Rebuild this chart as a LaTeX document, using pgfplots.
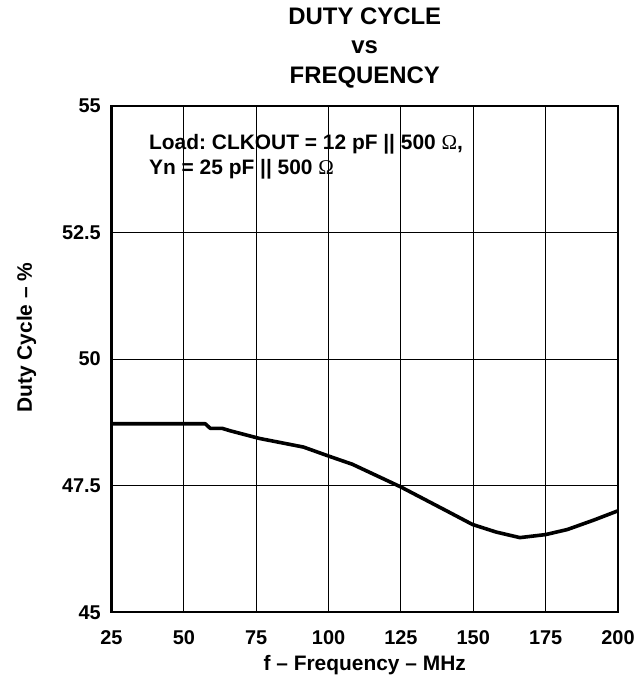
\documentclass[border=0pt]{standalone}
\usepackage{fontspec}
\setmainfont{Liberation Sans}
\newfontfamily\seriffont{Liberation Serif}
\usepackage{pgfplots}
\pgfplotsset{compat=1.18}
\frenchspacing
\begin{document}
\begin{tikzpicture}
\useasboundingbox (-111.5bp,-67bp) rectangle (530.5bp,612bp);
\begin{axis}[
  at={(0,0)}, anchor=south west,
  scale only axis,
  width=506.5bp, height=506bp,
  xmin=25, xmax=200, ymin=45, ymax=55,
  xtick={25,50,75,100,125,150,175,200},
  ytick={45,47.5,50,52.5,55},
  yticklabels={45,47.5,50,52.5,55},
  xticklabels={25,50,75,100,125,150,175,200},
  /pgf/number format/assume math mode=true,
  grid=major,
  major grid style={black, line width=0.9bp},
  major tick length=0pt,
  axis line style={line width=2.4bp},
  every axis/.append style={line width=2.4bp},
  tick label style={font=\fontsize{20}{24}\bfseries, inner sep=0pt, text height=14bp, text depth=0pt},
  xticklabel style={anchor=north, yshift=-17bp},
  yticklabel style={anchor=east, xshift=-9.5bp},
  xlabel={f -- Frequency -- MHz},
  ylabel={Duty Cycle -- \%},
  xlabel style={font=\fontsize{21}{25}\bfseries, at={(rel axis cs:0.5,0)}, anchor=base, yshift=-58bp, inner sep=0pt},
  ylabel style={font=\fontsize{21}{25}\bfseries, at={(rel axis cs:0,0.5425)}, anchor=base, yshift=79.5bp, inner sep=0pt},
  title={DUTY CYCLE\\vs\\FREQUENCY},
  title style={font=\fontsize{24}{29.5}\bfseries, align=center, at={(rel axis cs:0.5,1)}, anchor=north, yshift=93.5bp, inner sep=0pt},
]
\addplot[black, line width=3.6bp, line join=round] coordinates {
(25,48.72) (57.4,48.72) (59.1,48.63) (63.2,48.63) (66.1,48.58) (76.1,48.43)
(91.3,48.26) (100.6,48.07) (108.2,47.92) (125,47.47) (140.4,47.01)
(149.7,46.73) (157.9,46.58) (166.1,46.47) (175,46.53) (182.5,46.63)
(191.8,46.82) (200,47.0)
};
\node[anchor=north west, inner sep=0pt, align=left, font=\fontsize{21}{25}\bfseries]
  at (rel axis cs:0.072,0.9466)
  {Load: CLKOUT = 12 pF || 500 {\seriffont\mdseries Ω},\\Yn = 25 pF || 500 {\seriffont\mdseries Ω}};
\end{axis}
\end{tikzpicture}
\end{document}
